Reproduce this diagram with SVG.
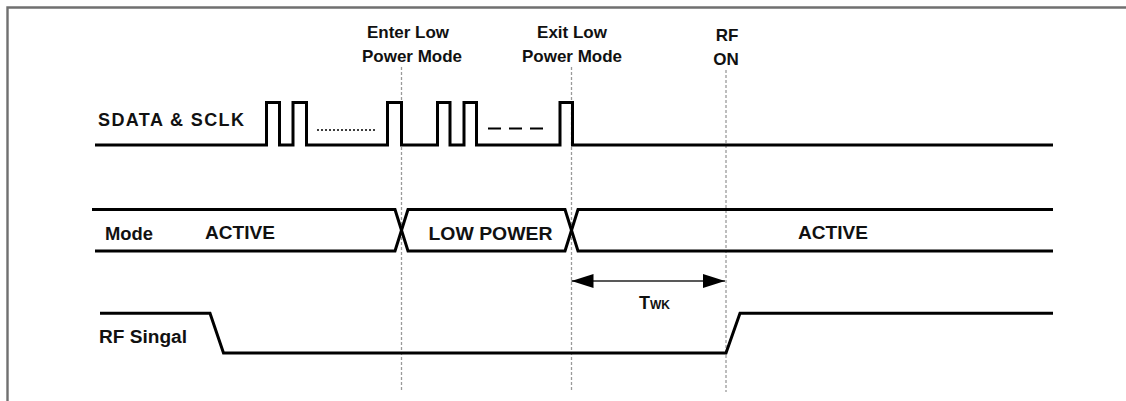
<svg xmlns="http://www.w3.org/2000/svg" width="1126" height="401" viewBox="0 0 1126 401">
<style>
.sig{fill:none;stroke:#000;stroke-width:3;stroke-linejoin:miter}
.guide{fill:none;stroke:#9a9a9a;stroke-width:1.3;stroke-dasharray:3 2}
.lbl{font-family:"Liberation Sans",Arial,sans-serif;font-weight:bold;font-size:18px;fill:#111}
.top{font-family:"Liberation Sans",Arial,sans-serif;font-weight:bold;font-size:17px;fill:#111;text-anchor:middle}
</style>
<defs>
<marker id="ah" markerUnits="userSpaceOnUse" markerWidth="24" markerHeight="16" viewBox="0 0 24 16" refX="22" refY="8" orient="auto-start-reverse">
<path d="M0,1 L22,8 L0,15 Z" fill="#000"/>
</marker>
</defs>
<rect width="1126" height="401" fill="#fff"/>
<g id="frame">
<path d="M7.5,401 V7.5 H1126" fill="none" stroke="#707070" stroke-width="2.4"/>
</g>
<g id="guides">
<line class="guide" x1="401.5" y1="67" x2="401.5" y2="392"/>
<line class="guide" x1="571.5" y1="67" x2="571.5" y2="392"/>
<line class="guide" x1="726" y1="70" x2="726" y2="392"/>
</g>
<g id="event-labels">
<text class="top" x="408" y="38">Enter Low</text>
<text class="top" x="412" y="62">Power Mode</text>
<text class="top" x="572" y="38">Exit Low</text>
<text class="top" x="572" y="62">Power Mode</text>
<text class="top" x="727" y="40.5">RF</text>
<text class="top" x="726" y="64.5">ON</text>
</g>
<g id="sdata-sclk">
<text class="lbl" x="98" y="125.5" textLength="146" lengthAdjust="spacing">SDATA &amp; SCLK</text>
<path class="sig" d="M95,145 H266.5 V102.5 H279.5 V145 H293 V102.5 H306.5 V145 H387.5 V102.5 H401.5 V145 H437.5 V102.5 H450 V145 H464 V102.5 H476.5 V145 H560 V102.5 H572.5 V145 H1053"/>
<line x1="317" y1="130" x2="376" y2="130" stroke="#000" stroke-width="1.6" stroke-dasharray="2 2"/>
<line x1="488" y1="128.5" x2="546" y2="128.5" stroke="#000" stroke-width="1.8" stroke-dasharray="13 8"/>
</g>
<g id="mode">
<text class="lbl" x="105" y="240" textLength="48" lengthAdjust="spacingAndGlyphs">Mode</text>
<text class="lbl" x="205" y="239" textLength="70" lengthAdjust="spacingAndGlyphs">ACTIVE</text>
<text class="lbl" x="428.5" y="240" textLength="124" lengthAdjust="spacingAndGlyphs">LOW POWER</text>
<text class="lbl" x="798" y="239" textLength="70" lengthAdjust="spacingAndGlyphs">ACTIVE</text>
<path class="sig" d="M92,209.5 H395 L408,251 H565 L578,209.5 H1053"/>
<path class="sig" d="M95,251 H395 L408,209.5 H565 L578,251 H1053"/>
</g>
<g id="rf-signal">
<text class="lbl" x="99" y="342.5" textLength="88" lengthAdjust="spacingAndGlyphs">RF Singal</text>
<path class="sig" d="M100,313.3 H210 L223.5,353 H726 L740,313.3 H1053"/>
</g>
<g id="connectors">
<line x1="571.5" y1="281" x2="725" y2="281" stroke="#222" stroke-width="1.6" marker-start="url(#ah)" marker-end="url(#ah)"/>
<text class="lbl" x="639" y="308.5" font-size="19">T<tspan font-size="12" dy="0.5">WK</tspan></text>
</g>
</svg>
